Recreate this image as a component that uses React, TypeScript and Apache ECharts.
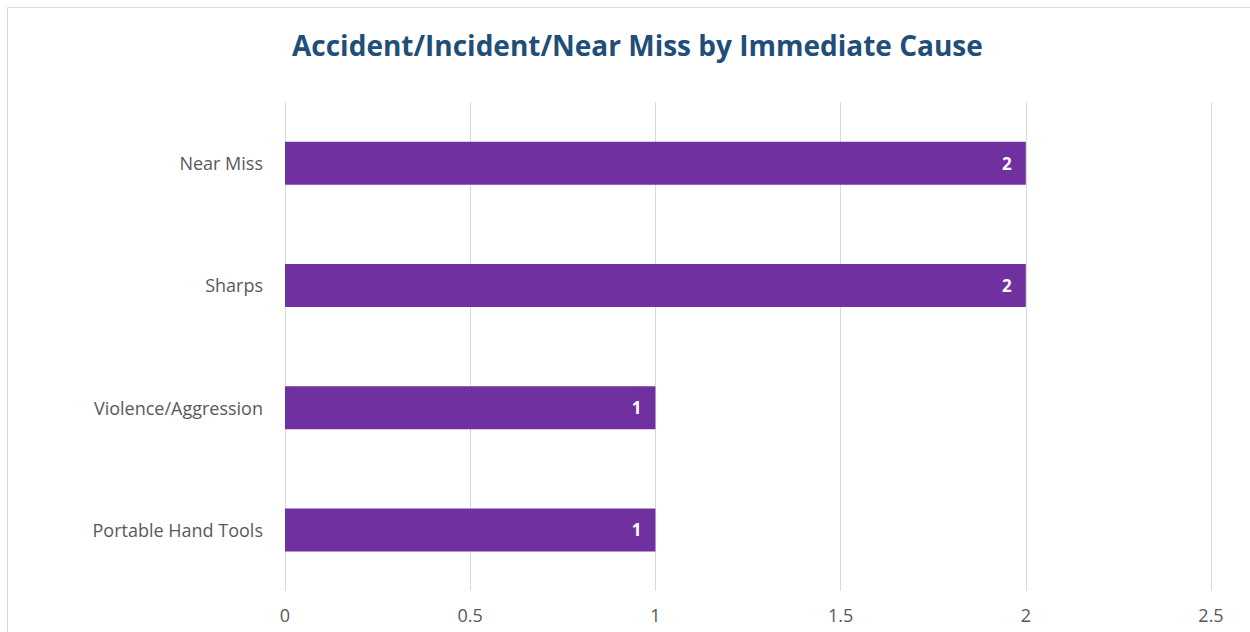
import React, { useEffect, useRef } from "react";
import * as echarts from "echarts";

const categories = ["Near Miss", "Sharps", "Violence/Aggression", "Portable Hand Tools"];
const counts = [2, 2, 1, 1];
const xTicks = [0, 0.5, 1, 1.5, 2, 2.5];
const titleText = "Accident/Incident/Near Miss by Immediate Cause";

export default function App() {
  const ref = useRef<HTMLDivElement>(null);
  useEffect(() => {
    if (!ref.current) return;
    const chart = echarts.init(ref.current, null, { renderer: "svg" });
    chart.setOption({
      animation: false,
      backgroundColor: "#ffffff",
      title: {
        text: titleText,
        left: 287,
        top: 26,
        textStyle: {
          fontFamily: "Open Sans",
          fontWeight: "bold",
          fontSize: 28,
          color: "#1F4E79",
        },
      },
      graphic: [
        {
          type: "rect",
          shape: { x: 7.5, y: 7.5, width: 1300, height: 700 },
          style: { fill: "none", stroke: "#d9d9d9", lineWidth: 1 },
          silent: true,
        },
      ],
      grid: { left: 285, right: 39, top: 102, bottom: 41, containLabel: false },
      xAxis: {
        type: "value",
        min: xTicks[0],
        max: xTicks[xTicks.length - 1],
        interval: 0.5,
        axisLine: { show: false },
        axisTick: { show: false },
        axisLabel: {
          fontFamily: "Open Sans",
          fontSize: 18,
          color: "#595959",
          margin: 15,
        },
        splitLine: { show: true, lineStyle: { color: "#d9d9d9", width: 1 } },
      },
      yAxis: {
        type: "category",
        data: categories,
        inverse: true,
        axisLine: { show: false },
        axisTick: { show: false },
        axisLabel: {
          fontFamily: "Open Sans",
          fontSize: 18,
          color: "#595959",
          margin: 22,
          padding: [0, 0, 7, 0],
        },
      },
      series: [
        {
          type: "bar",
          data: counts,
          barWidth: 43,
          itemStyle: { color: "#7030A0" },
          label: {
            show: true,
            position: "insideRight",
            distance: 14,
            color: "#ffffff",
            fontWeight: "bold",
            fontFamily: "Open Sans",
            fontSize: 17,
          },
        },
      ],
    });
    return () => chart.dispose();
  }, []);
  return (
    <div
      ref={ref}
      style={{ position: "fixed", left: 0, top: 0, width: 1250, height: 632 }}
    />
  );
}
